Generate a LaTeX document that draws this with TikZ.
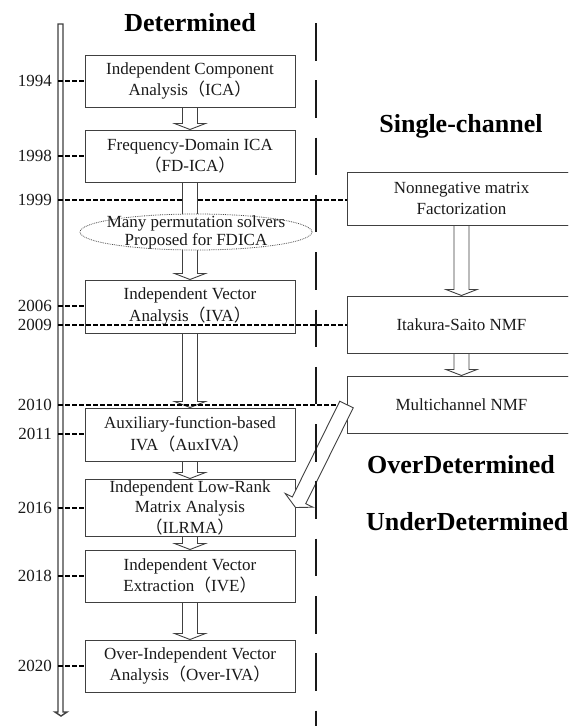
\documentclass[tikz,border=0pt]{standalone}
\usepackage{fontspec}
\setmainfont{Liberation Serif}
\newfontfamily\cjkfont{Noto Sans CJK SC}
\usetikzlibrary{calc,shapes.geometric}

\newcommand\fwl{{\cjkfont （}}
\newcommand\fwr{{\cjkfont ）}}
\newcommand\bodyfont{\fontsize{17}{21.5}\selectfont}
\newcommand\ellfont{\fontsize{17}{18}\selectfont}
\newcommand\headfont{\fontsize{26}{30}\selectfont\bfseries}

\definecolor{boxline}{HTML}{404040}
\definecolor{ink}{HTML}{1A1A1A}

% hollow block arrow pointing down from one box to the next
\newcommand\flowdown[2]{%
  \draw[harrow] ($(#1.south)+(-7.5,0.5)$) -- ($(#2.north)+(-7.5,-6)$)
    -- ($(#2.north)+(-15.5,-6)$) -- (#2.north) -- ($(#2.north)+(15.5,-6)$)
    -- ($(#2.north)+(7.5,-6)$) -- ($(#1.south)+(7.5,0.5)$);}

\tikzset{
  box/.style={draw=boxline, line width=1pt, fill=white, minimum width=210pt,
    minimum height=52pt, inner sep=0pt, align=center, font=\bodyfont, text=ink},
  rbox/.style={box, minimum width=229pt},
  harrow/.style={draw=boxline, line width=0.9pt, fill=white, line join=miter},
  yearline/.style={draw=black, line width=1.8pt, dash pattern=on 4.5pt off 2.5pt},
  divider/.style={draw=black!90, line width=2.2pt, dash pattern=on 37.5pt off 19.8pt},
  year/.style={anchor=east, font=\bodyfont, inner sep=0pt, text=ink},
  heading/.style={font=\headfont, inner sep=0pt, text=black},
}

\begin{document}
\begin{tikzpicture}[x=1pt, y=-1pt]
\useasboundingbox (0,0) rectangle (568,726);
\fill[white] (0,0) rectangle (568,726);
\clip (0,0) rectangle (568,726);

% time axis: a narrow hollow arrow
\draw[draw=black!75, line width=1.4pt, fill=white]
  (58,24) -- (58,712) -- (55,712) -- (61,716) -- (67,712) -- (63,712) -- (63,24) -- cycle;

% points on the time axis
\foreach \yr/\yy in {1994/81, 1998/156, 1999/200, 2006/306, 2009/325,
                     2010/405, 2011/434, 2016/508, 2018/576, 2020/666}
  \coordinate (t\yr) at (58,\yy);

% boxes (placed first so that their names exist)
\path
  node[box] (ica) at (190,81) {Independent Component\\Analysis\fwl ICA\fwr}
  node[box] (fd) at (190,156) {Frequency-Domain ICA\\\fwl FD-ICA\fwr}
  node[box, minimum height=53pt] (iva) at (190,306.5) {Independent Vector\\Analysis\fwl IVA\fwr}
  node[box, minimum height=53pt] (aux) at (190,434.5) {Auxiliary-function-based\\IVA\fwl AuxIVA\fwr}
  node[box, minimum height=57pt, font={\fontsize{17}{20.5}\selectfont}] (ilrma) at (190,507.5)
     {Independent Low-Rank\\Matrix Analysis\\\fwl ILRMA\fwr}
  node[box] (ive) at (190,576) {Independent Vector\\Extraction\fwl IVE\fwr}
  node[box] (oiva) at (190,666) {Over-Independent Vector\\Analysis\fwl Over-IVA\fwr}
  node[rbox, minimum height=53pt] (nmf) at (461.5,198.5) {Nonnegative matrix\\Factorization}
  node[rbox, minimum height=57pt] (is) at (461.5,324.5) {Itakura-Saito NMF}
  node[rbox, minimum height=57pt] (mc) at (461.5,404.5) {Multichannel NMF};

% 1999 guide runs beneath the block arrow
\draw[yearline] (t1999) -- (t1999 -| nmf.west);

% block arrows between successive methods
\flowdown{ica}{fd}
\flowdown{fd}{iva}
\flowdown{iva}{aux}
\flowdown{aux}{ilrma}
\flowdown{ilrma}{ive}
\flowdown{ive}{oiva}
\flowdown{nmf}{is}
\flowdown{is}{mc}

% redraw boxes on top of the arrow ends
\path
  node[box] at (ica) {Independent Component\\Analysis\fwl ICA\fwr}
  node[box] at (fd) {Frequency-Domain ICA\\\fwl FD-ICA\fwr}
  node[box, minimum height=53pt] at (iva) {Independent Vector\\Analysis\fwl IVA\fwr}
  node[box, minimum height=53pt] at (aux) {Auxiliary-function-based\\IVA\fwl AuxIVA\fwr}
  node[box, minimum height=57pt, font={\fontsize{17}{20.5}\selectfont}] at (ilrma)
     {Independent Low-Rank\\Matrix Analysis\\\fwl ILRMA\fwr}
  node[box] at (ive) {Independent Vector\\Extraction\fwl IVE\fwr}
  node[box] at (oiva) {Over-Independent Vector\\Analysis\fwl Over-IVA\fwr}
  node[rbox, minimum height=53pt] at (nmf) {Nonnegative matrix\\Factorization}
  node[rbox, minimum height=57pt] at (is) {Itakura-Saito NMF}
  node[rbox, minimum height=57pt] at (mc) {Multichannel NMF};

% permutation solvers
\node[ellipse, draw=black!70, densely dotted, line width=0.8pt, fill=white,
      minimum width=232pt, minimum height=36pt, inner sep=0pt,
      label={[font=\ellfont, align=center, text=ink, inner sep=0pt]center:Many permutation solvers\\Proposed for FDICA}]
  (perm) at (196,232) {};

% year labels and guides
\foreach \yr in {1994,1998,1999,2006,2009,2010,2011,2016,2018,2020}
  \node[year] (y\yr) at ($(t\yr)+(-6,0)$) {\yr};
\draw[yearline] (t1994) -- (t1994 -| ica.west);
\draw[yearline] (t1998) -- (t1998 -| fd.west);
\draw[yearline] (t2006) -- (t2006 -| iva.west);
\draw[yearline] (t2011) -- (t2011 -| aux.west);
\draw[yearline] (t2016) -- (t2016 -| ilrma.west);
\draw[yearline] (t2018) -- (t2018 -| ive.west);
\draw[yearline] (t2020) -- (t2020 -| oiva.west);
\draw[yearline] (t2009) -- (t2009 -| is.west);
\draw[yearline] (t2010) -- (t2010 -| mc.west);

% Multichannel NMF feeds ILRMA
\coordinate (dt) at (mc.west);
\coordinate (dh) at (ilrma.east);
\coordinate (db) at ($(dh)!8pt!(dt)$);
\draw[harrow] ($(dt)!7.5pt!90:(dh)$) -- ($(db)!7.5pt!90:(dh)$) -- ($(db)!15.5pt!90:(dh)$)
  -- (dh) -- ($(db)!15.5pt!-90:(dh)$) -- ($(db)!7.5pt!-90:(dh)$) -- ($(dt)!7.5pt!-90:(dh)$) -- cycle;

% divider between the two families
\coordinate (dtop) at (316,23);
\coordinate (dbot) at (316,780);
\draw[divider] (dtop) -- (dbot);

% headings
\node[heading, anchor=base] (hdet) at (190,31) {Determined};
\node[heading, anchor=base] (hsc) at (461,132) {Single-channel};
\node[heading, anchor=base west] (hod) at (367,473) {OverDetermined};
\node[heading, anchor=base west] (hud) at (366,530) {UnderDetermined};
\end{tikzpicture}
\end{document}
